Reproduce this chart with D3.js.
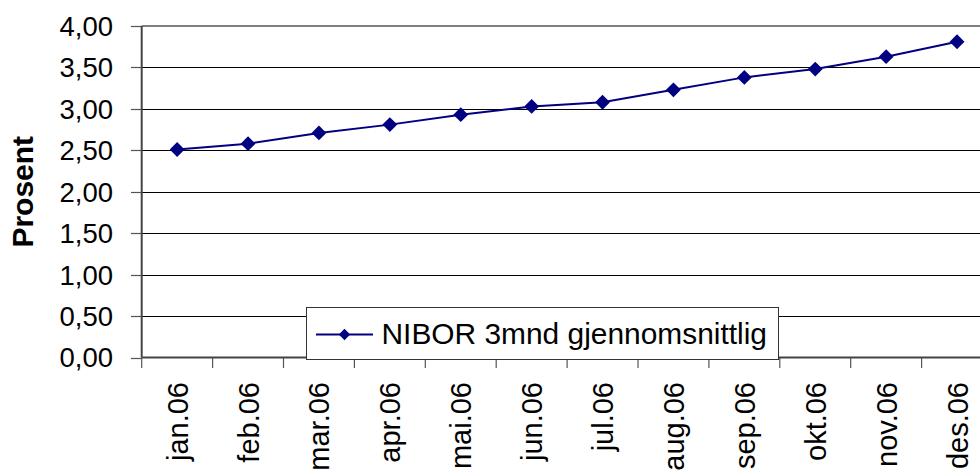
<!DOCTYPE html>
<html>
<head>
<meta charset="utf-8">
<script src="https://cdn.jsdelivr.net/npm/d3@7"></script>
<style>
  html, body { margin: 0; padding: 0; background: #fff; }
  svg { display: block; font-family: Arial, "Liberation Sans", sans-serif; }
</style>
</head>
<body>
<svg id="chart" width="980" height="472"></svg>
<script>
// Months shown along the category axis
const months = ["jan.06", "feb.06", "mar.06", "apr.06", "mai.06", "jun.06",
                "jul.06", "aug.06", "sep.06", "okt.06", "nov.06", "des.06"];
// Average 3-month NIBOR per month (percent)
const nibor = [2.51, 2.58, 2.71, 2.81, 2.93, 3.03, 3.08, 3.23, 3.38, 3.48, 3.63, 3.81];
// Value axis ticks
const yTicks = [0, 0.5, 1, 1.5, 2, 2.5, 3, 3.5, 4];
const seriesName = "NIBOR 3mnd gjennomsnittlig";
const axisTitle = "Prosent";

const svg = d3.select("#chart");

const plotLeft = 141.7, plotTop = 26, plotBottom = 357.5, step = 70.9;
const plotRight = plotLeft + step * months.length;

const x = d3.scaleBand().domain(months).range([plotLeft, plotRight]).padding(0);
const y = d3.scaleLinear().domain([0, 4]).range([plotBottom, plotTop]);

const fmt = v => d3.format(".2f")(v).replace(".", ",");

// Horizontal gridlines
svg.append("g")
  .selectAll("line")
  .data(yTicks.filter(v => v > 0 && v < 4))
  .join("line")
  .attr("x1", plotLeft).attr("x2", plotRight)
  .attr("y1", d => Math.round(y(d)) + 0.5).attr("y2", d => Math.round(y(d)) + 0.5)
  .attr("stroke", "#000").attr("stroke-width", 1);

// Plot area top border
svg.append("line")
  .attr("x1", plotLeft).attr("x2", plotRight)
  .attr("y1", y(4)).attr("y2", y(4))
  .attr("stroke", "#808080").attr("stroke-width", 2);

// Value axis tick marks and labels
svg.append("g")
  .selectAll("line")
  .data(yTicks)
  .join("line")
  .attr("x1", 131).attr("x2", plotLeft)
  .attr("y1", d => Math.round(y(d)) + 0.5).attr("y2", d => Math.round(y(d)) + 0.5)
  .attr("stroke", "#555").attr("stroke-width", 1.2);

svg.append("g")
  .selectAll("text")
  .data(yTicks)
  .join("text")
  .attr("x", 113)
  .attr("y", d => y(d))
  .attr("dy", "0.36em")
  .attr("text-anchor", "end")
  .attr("font-size", 27.5)
  .attr("fill", "#000")
  .text(fmt);

// Value axis title
svg.append("text")
  .attr("transform", `translate(33,${(plotTop + plotBottom) / 2}) rotate(-90)`)
  .attr("text-anchor", "middle")
  .attr("font-size", 30)
  .attr("font-weight", "bold")
  .attr("fill", "#000")
  .text(axisTitle);

// Category axis tick marks at band edges
const edges = months.map(m => x(m)).concat([plotRight]);
svg.append("g")
  .selectAll("line")
  .data(edges)
  .join("line")
  .attr("x1", d => d).attr("x2", d => d)
  .attr("y1", plotBottom).attr("y2", 368)
  .attr("stroke", "#555").attr("stroke-width", 1.2);

// Category labels, rotated
svg.append("g")
  .selectAll("text")
  .data(months)
  .join("text")
  .attr("transform", d => `translate(${x(d) + x.bandwidth() / 2},382) rotate(-90)`)
  .attr("dy", "0.36em")
  .attr("text-anchor", "end")
  .attr("font-size", 29)
  .attr("fill", "#000")
  .text(d => d);

// Axis lines
svg.append("line")
  .attr("x1", plotLeft).attr("x2", plotLeft).attr("y1", plotTop).attr("y2", plotBottom)
  .attr("stroke", "#444").attr("stroke-width", 2);
svg.append("line")
  .attr("x1", plotLeft).attr("x2", plotRight).attr("y1", plotBottom).attr("y2", plotBottom)
  .attr("stroke", "#444").attr("stroke-width", 2);

// Series line and markers
const cx = d => x(d) + x.bandwidth() / 2;
const line = d3.line().x((d, i) => cx(months[i])).y(d => y(d));
svg.append("path")
  .datum(nibor)
  .attr("d", line)
  .attr("fill", "none")
  .attr("stroke", "#000080")
  .attr("stroke-width", 2);

const diamond = d3.symbol().type(d3.symbolSquare).size(110);
svg.append("g")
  .selectAll("path")
  .data(nibor)
  .join("path")
  .attr("d", diamond)
  .attr("transform", (d, i) => `translate(${cx(months[i])},${y(d)}) rotate(45)`)
  .attr("fill", "#000080");

// Legend
const lg = svg.append("g");
lg.append("rect")
  .attr("x", 306.5).attr("y", 307.5).attr("width", 472).attr("height", 52)
  .attr("fill", "#fff").attr("stroke", "#333").attr("stroke-width", 1);
lg.append("line")
  .attr("x1", 316).attr("x2", 373).attr("y1", 334.5).attr("y2", 334.5)
  .attr("stroke", "#000080").attr("stroke-width", 2);
lg.append("path")
  .attr("d", d3.symbol().type(d3.symbolSquare).size(64)())
  .attr("transform", "translate(344.5,334.5) rotate(45)")
  .attr("fill", "#000080");
lg.append("text")
  .attr("x", 381.5).attr("y", 343.5)
  .attr("font-size", 29.9)
  .attr("fill", "#000")
  .text(seriesName);
</script>
</body>
</html>
